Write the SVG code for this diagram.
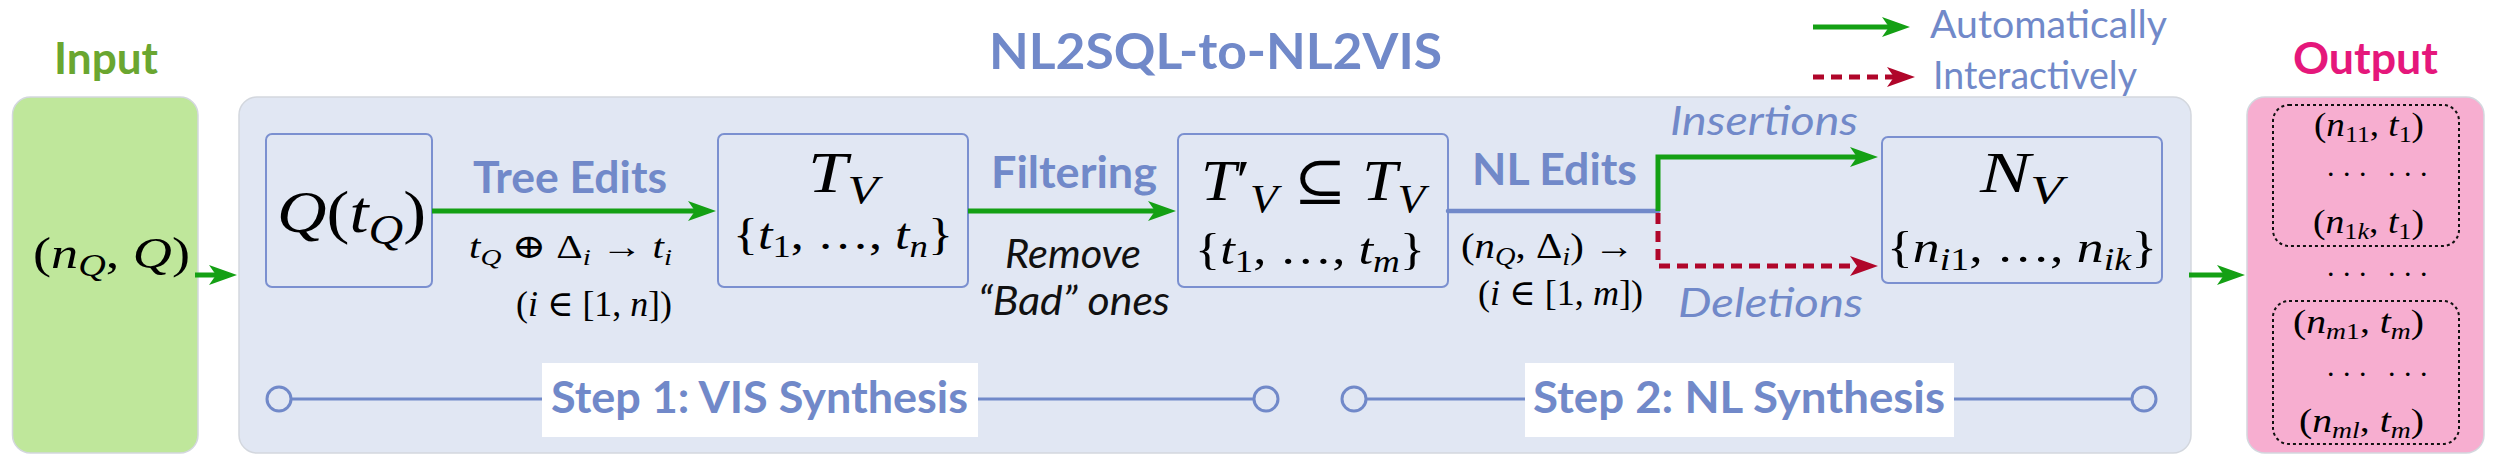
<svg xmlns="http://www.w3.org/2000/svg" width="2501" height="468" viewBox="0 0 2501 468">
<defs>
<style>
.lb{font-family:Lato,"Open Sans","DejaVu Sans",sans-serif;font-weight:bold;fill:#7189c9}
.lr{font-family:Lato,"Open Sans","DejaVu Sans",sans-serif;fill:#7189c9}
.it{font-style:italic}
.blk{fill:#111}
.m{font-family:"Liberation Serif","DejaVu Serif",serif;fill:#000}
.i{font-style:italic}
.dots{font-family:"Liberation Serif","DejaVu Serif",serif;fill:#000;font-size:30px;letter-spacing:8.5px}
.node{fill:none;stroke:#7b90d0;stroke-width:2}
.panel{stroke:#d3d7de;stroke-width:1.5}
.g{stroke:#14a014;stroke-width:5;fill:none}
.r{stroke:#b0062a;stroke-width:5;fill:none;stroke-dasharray:11 7}
.b{stroke:#7189c9;stroke-width:4.5;fill:none;stroke-linecap:round}
.step{stroke:#7189c9;stroke-width:3;fill:none}
.circ{stroke:#7189c9;stroke-width:3;fill:#e1e7f3}
.dot{fill:none;stroke:#111;stroke-width:2;stroke-dasharray:3 3}
</style>
<marker id="ag" viewBox="0 0 28 20" refX="20" refY="10" markerWidth="28" markerHeight="20" markerUnits="userSpaceOnUse" orient="auto"><path d="M0,0 L28,10 L0,20 L7,10 Z" fill="#14a014"/></marker>
<marker id="ar" viewBox="0 0 28 20" refX="20" refY="10" markerWidth="28" markerHeight="20" markerUnits="userSpaceOnUse" orient="auto"><path d="M0,0 L28,10 L0,20 L7,10 Z" fill="#b0062a"/></marker>
</defs>
<rect width="2501" height="468" fill="#fff"/>

<g id="input">
<text class="lb" x="54" y="74" font-size="44" textLength="104" lengthAdjust="spacingAndGlyphs" style="fill:#6aa630">Input</text>
<rect class="panel" x="12.5" y="97" width="185.5" height="356" rx="18" fill="#bfe79b"/>
<text class="m" x="33" y="268" font-size="44" textLength="157" lengthAdjust="spacingAndGlyphs">(<tspan class="i">n</tspan><tspan class="i" font-size="31" dy="8">Q</tspan><tspan dy="-8">, </tspan><tspan class="i">Q</tspan>)</text>
</g>

<g id="pipeline">
<rect class="panel" x="239" y="97" width="1952" height="356" rx="18" fill="#e1e7f3"/>
<text class="lb" x="989" y="69" font-size="50" textLength="453" lengthAdjust="spacingAndGlyphs">NL2SQL-to-NL2VIS</text>
</g>

<g id="legend">
<text class="lr" x="1930" y="38" font-size="38" textLength="237" lengthAdjust="spacingAndGlyphs">Automatically</text>
<text class="lr" x="1933" y="89" font-size="38" textLength="204" lengthAdjust="spacingAndGlyphs">Interactively</text>
</g>

<g id="output">
<text class="lb" x="2293" y="74" font-size="44" textLength="145" lengthAdjust="spacingAndGlyphs" style="fill:#e5177b">Output</text>
<rect class="panel" x="2247" y="97" width="237" height="356" rx="18" fill="#f7aed0"/>
<rect class="dot" x="2273" y="105" width="186" height="141" rx="16"/>
<rect class="dot" x="2273" y="301" width="186" height="143" rx="16"/>
<text class="m" x="2314" y="136" font-size="33" textLength="110" lengthAdjust="spacingAndGlyphs">(<tspan class="i">n</tspan><tspan font-size="23" dy="6">11</tspan><tspan dy="-6">, </tspan><tspan class="i">t</tspan><tspan font-size="23" dy="6">1</tspan><tspan dy="-6">)</tspan></text>
<text class="dots" y="176"><tspan x="2327">...</tspan><tspan x="2388">...</tspan></text>
<text class="m" x="2313" y="233" font-size="33" textLength="111" lengthAdjust="spacingAndGlyphs">(<tspan class="i">n</tspan><tspan font-size="23" dy="6">1<tspan class="i">k</tspan></tspan><tspan dy="-6">, </tspan><tspan class="i">t</tspan><tspan font-size="23" dy="6">1</tspan><tspan dy="-6">)</tspan></text>
<text class="dots" y="276"><tspan x="2327">...</tspan><tspan x="2388">...</tspan></text>
<text class="m" x="2293" y="333" font-size="33" textLength="131" lengthAdjust="spacingAndGlyphs">(<tspan class="i">n</tspan><tspan font-size="23" dy="6"><tspan class="i">m</tspan>1</tspan><tspan dy="-6">, </tspan><tspan class="i">t</tspan><tspan class="i" font-size="23" dy="6">m</tspan><tspan dy="-6">)</tspan></text>
<text class="dots" y="376"><tspan x="2327">...</tspan><tspan x="2388">...</tspan></text>
<text class="m" x="2299" y="432" font-size="33" textLength="125" lengthAdjust="spacingAndGlyphs">(<tspan class="i">n</tspan><tspan class="i" font-size="23" dy="6">ml</tspan><tspan dy="-6">, </tspan><tspan class="i">t</tspan><tspan class="i" font-size="23" dy="6">m</tspan><tspan dy="-6">)</tspan></text>
</g>

<g id="node-q">
<rect class="node" x="266" y="134" width="166" height="153" rx="6"/>
<text class="m" x="277" y="232" font-size="60" textLength="149" lengthAdjust="spacingAndGlyphs"><tspan class="i">Q</tspan>(<tspan class="i">t</tspan><tspan class="i" font-size="42" dy="12">Q</tspan><tspan dy="-12">)</tspan></text>
</g>

<g id="node-tv">
<rect class="node" x="718" y="134" width="250" height="153" rx="6"/>
<text class="m" x="808" y="192" font-size="58" textLength="70" lengthAdjust="spacingAndGlyphs"><tspan class="i">T</tspan><tspan class="i" font-size="41" dy="11">V</tspan></text>
<text class="m" x="733" y="249" font-size="44" textLength="220" lengthAdjust="spacingAndGlyphs">{<tspan class="i">t</tspan><tspan font-size="31" dy="8">1</tspan><tspan dy="-8">, …, </tspan><tspan class="i">t</tspan><tspan class="i" font-size="31" dy="8">n</tspan><tspan dy="-8">}</tspan></text>
</g>

<g id="node-tv2">
<rect class="node" x="1178" y="134" width="270" height="153" rx="6"/>
<text class="m" x="1201" y="200" font-size="56" textLength="224" lengthAdjust="spacingAndGlyphs"><tspan class="i">T</tspan>′<tspan class="i" font-size="40" dy="12">V</tspan><tspan dy="-12"> ⊆ </tspan><tspan class="i">T</tspan><tspan class="i" font-size="40" dy="12">V</tspan></text>
<text class="m" x="1195" y="264" font-size="44" textLength="230" lengthAdjust="spacingAndGlyphs">{<tspan class="i">t</tspan><tspan font-size="31" dy="8">1</tspan><tspan dy="-8">, …, </tspan><tspan class="i">t</tspan><tspan class="i" font-size="31" dy="8">m</tspan><tspan dy="-8">}</tspan></text>
</g>

<g id="node-nv">
<rect class="node" x="1882" y="137" width="280" height="146" rx="6"/>
<text class="m" x="1980" y="192" font-size="58" textLength="83" lengthAdjust="spacingAndGlyphs"><tspan class="i">N</tspan><tspan class="i" font-size="41" dy="11">V</tspan></text>
<text class="m" x="1887" y="262" font-size="44" textLength="270" lengthAdjust="spacingAndGlyphs">{<tspan class="i">n</tspan><tspan font-size="31" dy="8"><tspan class="i">i</tspan>1</tspan><tspan dy="-8">, …, </tspan><tspan class="i">n</tspan><tspan class="i" font-size="31" dy="8">ik</tspan><tspan dy="-8">}</tspan></text>
</g>

<g id="steps">
<line class="step" x1="291" y1="399" x2="1254" y2="399"/>
<circle class="circ" cx="279" cy="399" r="12"/>
<circle class="circ" cx="1266" cy="399" r="12"/>
<rect x="542" y="363" width="436" height="74" fill="#fff"/>
<text class="lb" x="551" y="413" font-size="43" textLength="417" lengthAdjust="spacingAndGlyphs">Step 1: VIS Synthesis</text>
<line class="step" x1="1366" y1="399" x2="2132" y2="399"/>
<circle class="circ" cx="1354" cy="399" r="12"/>
<circle class="circ" cx="2144" cy="399" r="12"/>
<rect x="1525" y="363" width="429" height="74" fill="#fff"/>
<text class="lb" x="1533" y="413" font-size="43" textLength="412" lengthAdjust="spacingAndGlyphs">Step 2: NL Synthesis</text>
</g>

<g id="connectors">
<line class="g" x1="195" y1="275" x2="229" y2="275" marker-end="url(#ag)" stroke-width="4.5"/>
<line class="g" x1="432" y1="211" x2="708" y2="211" marker-end="url(#ag)"/>
<line class="g" x1="968" y1="211" x2="1168" y2="211" marker-end="url(#ag)"/>
<line class="b" x1="1448" y1="211" x2="1658" y2="211"/>
<path class="g" d="M1658,211 V157 H1870" stroke-width="4.5" marker-end="url(#ag)"/>
<path class="r" d="M1658,213 V266 H1870" stroke-width="4.5" marker-end="url(#ar)"/>
<line class="g" x1="2189" y1="275" x2="2237" y2="275" stroke-width="4.5" marker-end="url(#ag)"/>
<line class="g" x1="1813" y1="27" x2="1902" y2="27" stroke-width="4" marker-end="url(#ag)"/>
<line class="r" x1="1813" y1="77" x2="1907" y2="77" stroke-width="4" marker-end="url(#ar)"/>
<text class="lb" x="473" y="193" font-size="43" textLength="194" lengthAdjust="spacingAndGlyphs">Tree Edits</text>
<text class="m" x="469" y="258" font-size="34" textLength="203" lengthAdjust="spacingAndGlyphs"><tspan class="i">t</tspan><tspan class="i" font-size="24" dy="7">Q</tspan><tspan dy="-7"> ⊕ Δ</tspan><tspan class="i" font-size="24" dy="7">i</tspan><tspan dy="-7"> → </tspan><tspan class="i">t</tspan><tspan class="i" font-size="24" dy="7">i</tspan></text>
<text class="m" x="516" y="316" font-size="36" textLength="156" lengthAdjust="spacingAndGlyphs">(<tspan class="i">i</tspan> ∈ [1, <tspan class="i">n</tspan>])</text>
<text class="lb" x="991" y="188" font-size="43" textLength="166" lengthAdjust="spacingAndGlyphs">Filtering</text>
<text class="lr it blk" x="1005" y="268" font-size="40" textLength="136" lengthAdjust="spacingAndGlyphs">Remove</text>
<text class="lr it blk" x="978" y="315" font-size="40" textLength="192" lengthAdjust="spacingAndGlyphs">“Bad” ones</text>
<text class="lb" x="1472" y="185" font-size="43" textLength="165" lengthAdjust="spacingAndGlyphs">NL Edits</text>
<text class="m" x="1461" y="258" font-size="36" textLength="174" lengthAdjust="spacingAndGlyphs">(<tspan class="i">n</tspan><tspan class="i" font-size="25" dy="7">Q</tspan><tspan dy="-7">, Δ</tspan><tspan class="i" font-size="25" dy="7">i</tspan><tspan dy="-7">) →</tspan></text>
<text class="m" x="1478" y="305" font-size="36" textLength="165" lengthAdjust="spacingAndGlyphs">(<tspan class="i">i</tspan> ∈ [1, <tspan class="i">m</tspan>])</text>
<text class="lr it" x="1670" y="135" font-size="40" textLength="188" lengthAdjust="spacingAndGlyphs">Insertions</text>
<text class="lr it" x="1678" y="317" font-size="40" textLength="185" lengthAdjust="spacingAndGlyphs">Deletions</text>
</g>
</svg>
